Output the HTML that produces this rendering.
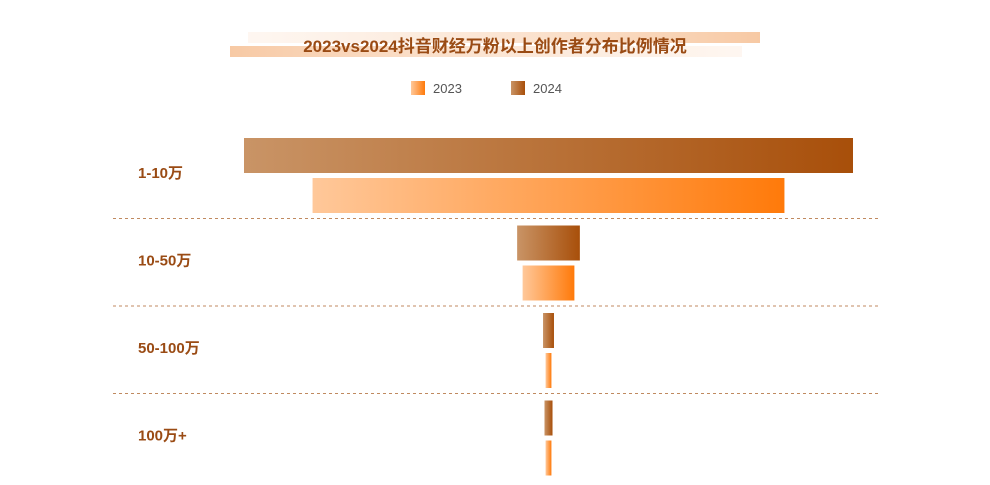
<!DOCTYPE html>
<html><head><meta charset="utf-8"><style>
body{margin:0;background:#fff;}
svg text{font-family:"Liberation Sans","Noto Sans CJK SC",sans-serif;}
</style></head><body>
<svg width="990" height="480">
<defs>
<linearGradient id="g23" x1="0" x2="1"><stop offset="0" stop-color="#ffc89a"/><stop offset="1" stop-color="#ff7a0a"/></linearGradient>
<linearGradient id="g24" x1="0" x2="1"><stop offset="0" stop-color="#c99466"/><stop offset="1" stop-color="#a84f0a"/></linearGradient>
<linearGradient id="band1" x1="0" x2="1"><stop offset="0" stop-color="#fbe3d0" stop-opacity="0.3"/><stop offset="1" stop-color="#f7c9a4"/></linearGradient>
<linearGradient id="band2" x1="0" x2="1"><stop offset="0" stop-color="#f7c9a4"/><stop offset="1" stop-color="#fbe3d0" stop-opacity="0.3"/></linearGradient>
</defs>
<rect x="248" y="32" width="512" height="11" fill="url(#band1)"/>
<rect x="230" y="46" width="512" height="11" fill="url(#band2)"/>
<text x="495" y="52" text-anchor="middle" font-size="17" font-weight="bold" fill="#9a4b14">2023vs2024抖音财经万粉以上创作者分布比例情况</text>
<g>
<rect x="411" y="81" width="14" height="14" fill="url(#g23)"/>
<text x="433" y="93" font-size="13" fill="#555">2023</text>
<rect x="511" y="81" width="14" height="14" fill="url(#g24)"/>
<text x="533" y="93" font-size="13" fill="#555">2024</text>
</g>
<g id="plot"></g>
</svg>
<script>
const categories=["1-10万","10-50万","50-100万","100万+"];
const values2024=[83.5,8.6,1.5,1.1];
const values2023=[64.7,7.1,0.8,0.8];
const ns="http://www.w3.org/2000/svg";
const plot=document.getElementById('plot');
const cx=548.5, pxPerUnit=609/83.5, bandTop=131, bandH=87.5;
function w(v){return v*pxPerUnit;}
function mk(tag,attrs){const e=document.createElementNS(ns,tag);for(const k in attrs)e.setAttribute(k,attrs[k]);plot.appendChild(e);return e;}
categories.forEach((c,i)=>{
  const y0=bandTop+i*bandH;
  const b4=mk('rect',{x:cx-w(values2024[i])/2,y:y0+7,width:w(values2024[i]),height:35,fill:'url(#g24)'});
  
  
  const b3=mk('rect',{x:cx-w(values2023[i])/2,y:y0+47,width:w(values2023[i]),height:35,fill:'url(#g23)'});
  
  
  const t=mk('text',{x:138,y:y0+47,'font-size':15,'font-weight':'bold',fill:'#9a4b14'});
  t.textContent=c;
  
  
  if(i<categories.length-1){
    const l=mk('line',{x1:113,x2:880,y1:y0+bandH,y2:y0+bandH,stroke:'#c08a60','stroke-width':1,'stroke-dasharray':'3,3'});
    
    
  }
});
</script>
</body></html>
